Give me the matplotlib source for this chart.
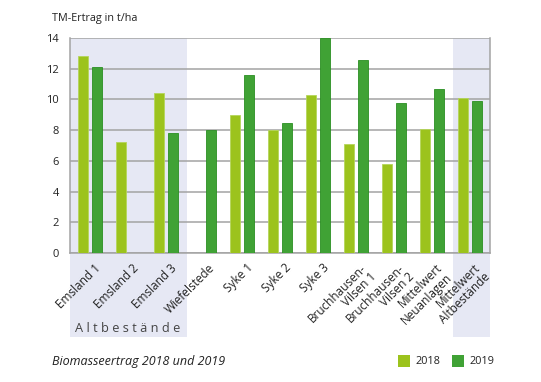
import matplotlib
matplotlib.use("Agg")
import matplotlib.pyplot as plt
from matplotlib.patches import Rectangle
import matplotlib.transforms as mtransforms
import numpy as np

plt.rcParams['font.family'] = ['Open Sans', 'DejaVu Sans']

categories = ["Emsland 1", "Emsland 2", "Emsland 3", "Wiefelstede", "Syke 1", "Syke 2",
              "Syke 3", "Bruchhausen-\nVilsen 1", "Bruchhausen-\nVilsen 2",
              "Mittelwert\nNeuanlagen", "Mittelwert\nAltbestände"]
values_2018 = [12.8, 7.2, 10.4, np.nan, 9.0, 8.0, 10.3, 7.1, 5.8, 8.1, 10.1]
values_2019 = [12.1, np.nan, 7.8, 8.0, 11.6, 8.45, 14.0, 12.6, 9.75, 10.7, 9.9]
yticks = [0, 2, 4, 6, 8, 10, 12, 14]

c2018 = "#9cc31d"
c2019 = "#40a235"
grid_c = "#a3a3a3"
shade_c = "#e6e8f4"

fig = plt.figure(figsize=(5.41, 3.82), dpi=100)
ax = fig.add_axes([70/541, 1-253/382, 420/541, 215/382])

x = np.arange(len(categories))
n = len(categories)
ax.set_xlim(-0.53, n - 1 + 0.53)
ax.set_ylim(0, 14)

trans = mtransforms.blended_transform_factory(ax.transData, ax.transAxes)
for (x0, x1) in [(-0.53, 2.55), (9.55, n - 1 + 0.53)]:
    ax.add_patch(Rectangle((x0, -0.39), x1 - x0, 1.39, transform=trans,
                           facecolor=shade_c, edgecolor='none', clip_on=False, zorder=0))

for yv in yticks:
    ax.axhline(yv, color=grid_c, lw=1.1, zorder=1)

w = 0.26
off = 0.185
ax.bar(x - off, values_2018, w, color=c2018, edgecolor="#b5d65a", lw=0.6, zorder=3, label="2018")
ax.bar(x + off, values_2019, w, color=c2019, edgecolor="#2a8f22", lw=0.6, zorder=3, label="2019")

ax.spines['top'].set_visible(False)
for s in ['left', 'right', 'bottom']:
    ax.spines[s].set_color(grid_c)
    ax.spines[s].set_linewidth(1.1)

ax.set_yticks(yticks)
ax.set_yticklabels([str(v) for v in yticks], fontsize=8, color="#222222")
ax.tick_params(axis='y', length=0, pad=8)
ax.set_xticks([])

for i, lab in enumerate(categories):
    ax.annotate(lab, xy=(i, 0), xycoords='data', xytext=(3, -6), textcoords='offset points',
                rotation=45, ha='right', va='top', rotation_mode='anchor',
                multialignment='right', fontsize=8.5, color="#222222",
                linespacing=1.0, annotation_clip=False)

fig.text(128/541, 1-328/382, "A l t b e s t ä n d e", fontsize=9.2, color="#444444",
         ha='center', va='center')

fig.text(52/541, 1-18/382, "TM-Ertrag in t/ha", fontsize=7.8, color="#222222",
         ha='left', va='center')
fig.text(52/541, 1-362/382, "Biomasseertrag 2018 und 2019", fontsize=9, color="#222222",
         ha='left', va='center', style='italic')

# legend
fig.patches.append(Rectangle((398/541, 1-367/382), 12/541, 12/382, transform=fig.transFigure,
                             facecolor=c2018, edgecolor='none'))
fig.text(416/541, 1-361/382, "2018", fontsize=7.8, ha='left', va='center', color="#222222")
fig.patches.append(Rectangle((452/541, 1-367/382), 12/541, 12/382, transform=fig.transFigure,
                             facecolor=c2019, edgecolor='none'))
fig.text(470/541, 1-361/382, "2019", fontsize=7.8, ha='left', va='center', color="#222222")

fig.savefig("out.png", dpi=100)
